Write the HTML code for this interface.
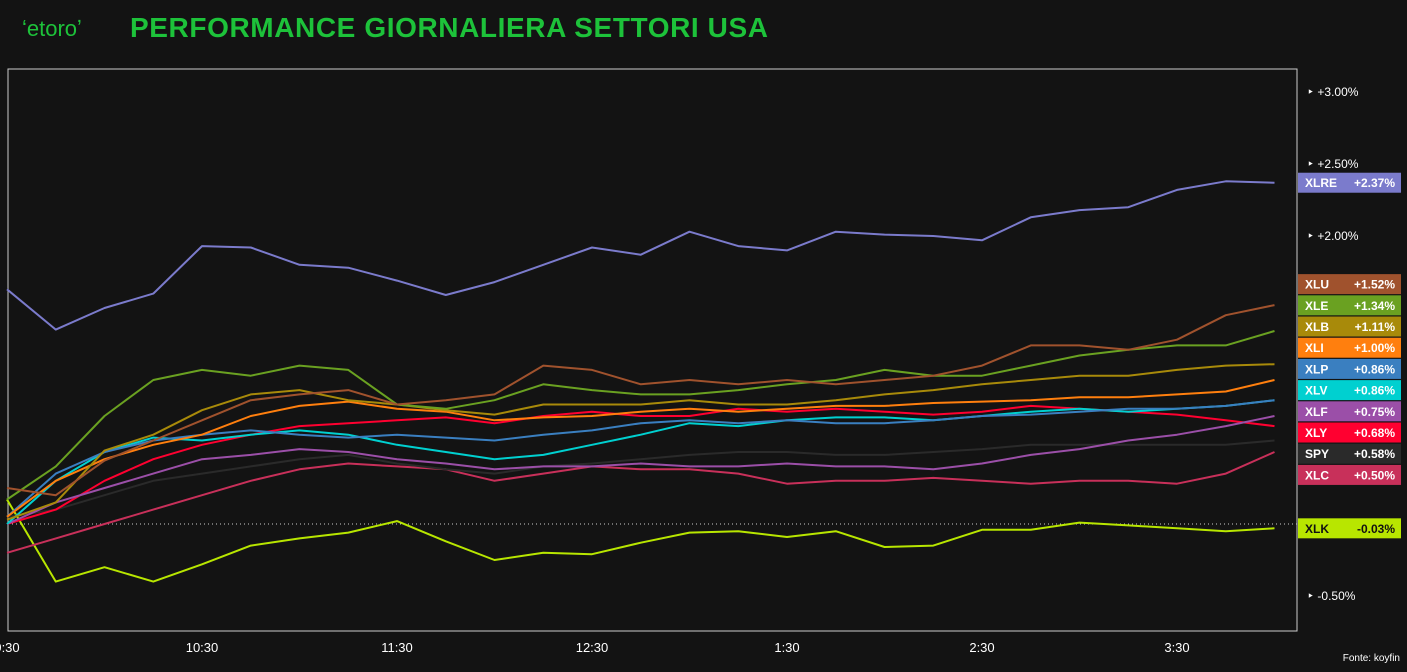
<!DOCTYPE html>
<html><head><meta charset="utf-8"><style>
body{margin:0;background:#131313;width:1407px;height:667px;overflow:hidden;font-family:"Liberation Sans",sans-serif}
</style></head><body>
<svg width="1407" height="667" xmlns="http://www.w3.org/2000/svg">
<rect width="1407" height="667" fill="#131313"/>
<text x="22" y="36" fill="#1dc23a" font-size="22" font-family="Liberation Sans,sans-serif">ʻetoroʼ</text>
<text x="130" y="37" fill="#1dc23a" font-size="28" font-weight="bold" font-family="Liberation Sans,sans-serif" textLength="638">PERFORMANCE GIORNALIERA SETTORI USA</text>
<rect x="8" y="69" width="1289" height="562" fill="#131313" stroke="#ccc" stroke-width="1"/>
<g id="grid"></g><g id="lines"></g><g id="axes"></g><g id="labels"></g>
<text x="1400" y="661" fill="#fff" font-size="10" text-anchor="end">Fonte: koyfin</text>
</svg>
<script>
const times=[0,15,30,45,60,75,90,105,120,135,150,165,180,195,210,225,240,255,270,285,300,315,330,345,360,375,390];
const xTickLabels=["9:30","10:30","11:30","12:30","1:30","2:30","3:30"];
const xTickMinutes=[0,60,120,180,240,300,360];
const yTicks=[3.0,2.5,2.0,-0.5];
const yTickLabels=["+3.00%","+2.50%","+2.00%","-0.50%"];
const names=["XLRE","XLU","XLE","XLB","XLI","XLP","XLV","XLF","XLY","SPY","XLC","XLK"];
const colors=["#7b7bcc","#a0522d","#6aa121","#a88a0a","#ff7f0e","#3a7fc0","#00d0d0","#9b4fa8","#ff0030","#2a2a2a","#c8305a","#b8e600"];
const XLRE=[1.63,1.35,1.50,1.60,1.93,1.92,1.80,1.78,1.69,1.59,1.68,1.80,1.92,1.87,2.03,1.93,1.90,2.03,2.01,2.00,1.97,2.13,2.18,2.20,2.32,2.38,2.37];
const XLU=[0.25,0.20,0.44,0.58,0.72,0.86,0.90,0.93,0.83,0.86,0.90,1.10,1.07,0.97,1.00,0.97,1.00,0.97,1.00,1.03,1.10,1.24,1.24,1.21,1.28,1.45,1.52];
const XLE=[0.17,0.40,0.75,1.00,1.07,1.03,1.10,1.07,0.83,0.80,0.86,0.97,0.93,0.90,0.90,0.93,0.97,1.00,1.07,1.03,1.03,1.10,1.17,1.21,1.24,1.24,1.34];
const XLB=[0.03,0.15,0.51,0.62,0.79,0.90,0.93,0.86,0.83,0.79,0.76,0.83,0.83,0.83,0.86,0.83,0.83,0.86,0.90,0.93,0.97,1.00,1.03,1.03,1.07,1.10,1.11];
const XLI=[0.05,0.30,0.45,0.55,0.62,0.75,0.82,0.85,0.80,0.78,0.72,0.74,0.75,0.78,0.80,0.78,0.80,0.82,0.82,0.84,0.85,0.86,0.88,0.88,0.90,0.92,1.00];
const XLP=[0.05,0.35,0.50,0.58,0.62,0.65,0.62,0.60,0.62,0.60,0.58,0.62,0.65,0.70,0.72,0.70,0.72,0.70,0.70,0.72,0.75,0.76,0.78,0.80,0.80,0.82,0.86];
const XLV=[0.00,0.30,0.50,0.60,0.58,0.62,0.65,0.62,0.55,0.50,0.45,0.48,0.55,0.62,0.70,0.68,0.72,0.74,0.74,0.72,0.75,0.78,0.80,0.78,0.80,0.82,0.86];
const XLF=[0.00,0.15,0.25,0.35,0.45,0.48,0.52,0.50,0.45,0.42,0.38,0.40,0.40,0.42,0.40,0.40,0.42,0.40,0.40,0.38,0.42,0.48,0.52,0.58,0.62,0.68,0.75];
const XLY=[0.00,0.10,0.30,0.45,0.55,0.62,0.68,0.70,0.72,0.74,0.70,0.75,0.78,0.75,0.75,0.80,0.78,0.80,0.78,0.76,0.78,0.82,0.80,0.78,0.76,0.72,0.68];
const SPY=[0.05,0.10,0.20,0.30,0.35,0.40,0.45,0.48,0.42,0.38,0.35,0.40,0.42,0.45,0.48,0.50,0.50,0.48,0.48,0.50,0.52,0.55,0.55,0.55,0.55,0.55,0.58];
const XLC=[-0.20,-0.10,0.00,0.10,0.20,0.30,0.38,0.42,0.40,0.38,0.30,0.35,0.40,0.38,0.38,0.35,0.28,0.30,0.30,0.32,0.30,0.28,0.30,0.30,0.28,0.35,0.50];
const XLK=[0.17,-0.40,-0.30,-0.40,-0.28,-0.15,-0.10,-0.06,0.02,-0.12,-0.25,-0.20,-0.21,-0.13,-0.06,-0.05,-0.09,-0.05,-0.16,-0.15,-0.04,-0.04,0.01,-0.01,-0.03,-0.05,-0.03];
const series=[XLRE,XLU,XLE,XLB,XLI,XLP,XLV,XLF,XLY,SPY,XLC,XLK];
const NS="http://www.w3.org/2000/svg";
const xS=m=>7+m*195/60;
const yS=v=>524-144*v;
function mk(t,a,p){const e=document.createElementNS(NS,t);for(const k in a)e.setAttribute(k,a[k]);p.appendChild(e);return e;}
const gA=document.getElementById('axes'),gL=document.getElementById('lines'),gG=document.getElementById('grid'),gLb=document.getElementById('labels');
const zl=mk('line',{x1:8,x2:1297,y1:yS(0),y2:yS(0),stroke:'#ccc','stroke-dasharray':'1,3'},gG);


xTickMinutes.forEach((m,i)=>{
  const t=mk('text',{x:xS(m),y:652,fill:'#fff','font-size':13,'text-anchor':'middle'},gA);
  t.textContent=xTickLabels[i];
  
  
});
yTicks.forEach((v,i)=>{
  const t=mk('text',{x:1307,y:yS(v)+4,fill:'#fff','font-size':12},gA);
  t.textContent='‣ '+yTickLabels[i];
  
  
});
for(let s=series.length-1;s>=0;s--){
  const d=series[s].map((v,i)=>(i?'L':'M')+xS(times[i]).toFixed(1)+','+yS(v).toFixed(1)).join('');
  const p=mk('path',{d:d,fill:'none',stroke:colors[s],'stroke-width':2,'stroke-linejoin':'round'},gL);
  
  
}
// label positions: cluster labels whose ideal positions are close, stack each cluster contiguously
const H=21.2;
let pos=series.map((s,i)=>({i:i,y:yS(s[s.length-1])}));
pos.sort((a,b)=>a.y-b.y);
let groups=[[pos[0]]];
for(let k=1;k<pos.length;k++){
  const g=groups[groups.length-1];
  if(pos[k].y-g[g.length-1].y<H+25)g.push(pos[k]);else groups.push([pos[k]]);
}
groups.forEach(g=>{
  const mean=g.reduce((a,p)=>a+p.y,0)/g.length;
  const start=mean-(g.length-1)*H/2-12;
  g.forEach((p,k)=>{p.y=g.length>1?start+k*H:p.y;});
});
pos.forEach(p=>{
  const i=p.i,last=series[i][series[i].length-1];
  const g=mk('g',{},gLb);
  
  
  mk('rect',{x:1298,y:p.y-10,width:103,height:20,fill:colors[i]},g);
  const tc=names[i]==='XLK'?'#111':'#fff';
  const a=mk('text',{x:1305,y:p.y+4.5,fill:tc,'font-size':12,'font-weight':'bold'},g);a.textContent=names[i];
  const b=mk('text',{x:1395,y:p.y+4.5,fill:tc,'font-size':12,'font-weight':'bold','text-anchor':'end'},g);
  b.textContent=(last>=0?'+':'')+last.toFixed(2)+'%';
});
</script>
</body></html>
